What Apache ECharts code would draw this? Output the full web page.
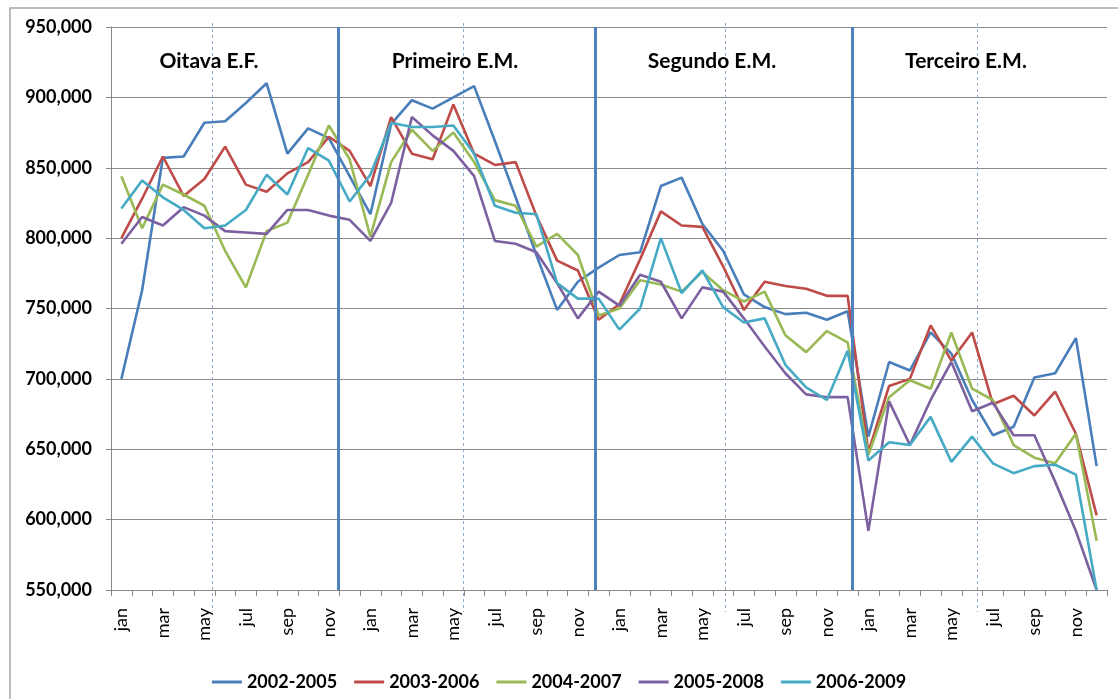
<!DOCTYPE html>
<html>
<head>
<meta charset="utf-8">
<script src="https://cdn.jsdelivr.net/npm/echarts@6/dist/echarts.min.js"></script>
<style>
  html, body { margin: 0; padding: 0; background: #fff; }
  #main { width: 1118px; height: 699px; }
</style>
</head>
<body>
<div id="main"></div>
<script>
// months, four school years in a row
const monthNames = ['jan', 'feb', 'mar', 'apr', 'may', 'jun', 'jul', 'aug', 'sep', 'oct', 'nov', 'dec'];
const months = [].concat(monthNames, monthNames, monthNames, monthNames);

const seriesNames = ['2002-2005', '2003-2006', '2004-2007', '2005-2008', '2006-2009'];

const s2002 = [
  700000, 763000, 857000, 858000, 882000, 883000, 896000, 910000, 860000, 878000, 871000, 844000,
  817000, 881000, 898000, 892000, 900000, 908000, 869000, 829000, 788000, 749000, 769000, 779000,
  788000, 790000, 837000, 843000, 810000, 791000, 760000, 751000, 746000, 747000, 742000, 748000,
  659000, 712000, 706000, 733000, 718000, 685000, 660000, 666000, 701000, 704000, 729000, 638000
];
const s2003 = [
  800000, 828000, 858000, 830000, 842000, 865000, 838000, 833000, 846000, 854000, 872000, 862000,
  837000, 886000, 860000, 856000, 895000, 860000, 852000, 854000, 816000, 784000, 777000, 742000,
  753000, 785000, 819000, 809000, 808000, 780000, 749000, 769000, 766000, 764000, 759000, 759000,
  648000, 695000, 700000, 738000, 713000, 733000, 682000, 688000, 674000, 691000, 661000, 603000
];
const s2004 = [
  844000, 807000, 838000, 831000, 823000, 791000, 765000, 805000, 811000, 845000, 880000, 856000,
  801000, 854000, 877000, 862000, 875000, 854000, 827000, 823000, 794000, 803000, 788000, 745000,
  750000, 770000, 767000, 762000, 776000, 763000, 755000, 762000, 731000, 719000, 734000, 726000,
  646000, 687000, 699000, 693000, 733000, 693000, 685000, 653000, 644000, 640000, 661000, 585000
];
const s2005 = [
  796000, 815000, 809000, 822000, 816000, 805000, 804000, 803000, 820000, 820000, 816000, 813000,
  798000, 825000, 886000, 873000, 862000, 844000, 798000, 796000, 790000, 768000, 743000, 762000,
  752000, 774000, 769000, 743000, 765000, 762000, 743000, 723000, 704000, 689000, 687000, 687000,
  592000, 684000, 653000, 685000, 712000, 677000, 683000, 660000, 660000, 627000, 592000, 550000
];
const s2006 = [
  821000, 841000, 829000, 820000, 807000, 809000, 820000, 845000, 831000, 864000, 855000, 826000,
  845000, 882000, 879000, 879000, 880000, 860000, 823000, 818000, 817000, 768000, 757000, 757000,
  735000, 750000, 800000, 761000, 777000, 751000, 740000, 743000, 710000, 694000, 685000, 720000,
  642000, 655000, 653000, 673000, 641000, 659000, 640000, 633000, 638000, 639000, 632000, 550000
];

// separators, in month units along the 48 months
const yearBreaks = [10.95, 23.36, 35.72];
const midYear = [4.85, 16.97, 29.58, 41.75];
const sectionNames = ['Oitava E.F.', 'Primeiro E.M.', 'Segundo E.M.', 'Terceiro E.M.'];
const sectionX = [209, 455, 712, 966];

const colors = ['#4A7EBB', '#BE4B48', '#98B954', '#7D60A0', '#46AAC5'];
const font = 'Lato, "Open Sans", sans-serif';

let chartDom = document.getElementById('main');
let myChart = echarts.init(chartDom);

const allData = [s2002, s2003, s2004, s2005, s2006];
let series = allData.map(function (d, i) {
  return {
    name: seriesNames[i],
    type: 'line',
    data: d,
    symbol: 'none',
    lineStyle: { width: 2.6, color: colors[i] },
    itemStyle: { color: colors[i] },
    z: 3
  };
});

// carrier for the year separators, on the hidden 0..48 axis
series.push({
  type: 'line',
  xAxisIndex: 1,
  data: [],
  silent: true,
  markLine: {
    symbol: ['none', 'none'],
    silent: true,
    animation: false,
    label: { show: false },
    data: yearBreaks.map(function (v) {
      return { xAxis: v, lineStyle: { color: '#4F81BD', width: 3, type: 'solid' } };
    })
  },
  z: 4
});

let option = {
  animation: false,
  color: colors,
  grid: {
    left: 111,
    right: 11,
    top: 27,
    bottom: 109,
    outerBoundsMode: 'none'
  },
  legend: {
    data: seriesNames,
    left: 'center',
    top: 668,
    icon: 'rect',
    itemWidth: 30,
    itemHeight: 3,
    itemGap: 17,
    textStyle: { fontFamily: font, fontSize: 18, fontWeight: 'bold', color: '#000' }
  },
  xAxis: [
    {
      type: 'category',
      data: months,
      boundaryGap: true,
      axisLine: { lineStyle: { color: '#888', width: 1 } },
      axisTick: { show: true, interval: 0, length: 6, lineStyle: { color: '#888' } },
      axisLabel: {
        interval: 1,
        rotate: 90,
        margin: 18,
        fontFamily: font,
        fontSize: 18,
        color: '#000'
      },
      splitLine: { show: false }
    },
    {
      type: 'value',
      min: 0,
      max: 48,
      show: false
    }
  ],
  yAxis: {
    type: 'value',
    min: 550000,
    max: 950000,
    interval: 50000,
    axisLine: { show: true, lineStyle: { color: '#888' } },
    axisTick: { show: true, length: 5, lineStyle: { color: '#888' } },
    axisLabel: {
      margin: 19,
      fontFamily: font,
      fontSize: 18,
      fontWeight: 'bold',
      color: '#000',
      formatter: function (v) { return v.toLocaleString('en-US'); }
    },
    splitLine: { lineStyle: { color: '#8a8a8a', width: 1 } }
  },
  series: series
};

option && myChart.setOption(option);

// frame, section titles and the dashed mid-year lines (these run past the axis)
let graphics = [
  {
    type: 'rect',
    shape: { x: 10, y: 8, width: 1120, height: 700 },
    style: { fill: 'none', stroke: '#a6a6a6', lineWidth: 1.5 },
    silent: true
  }
];
sectionNames.forEach(function (t, i) {
  graphics.push({
    type: 'text',
    x: sectionX[i],
    y: 61,
    style: {
      text: t,
      font: 'bold 21px ' + font,
      fill: '#000',
      textAlign: 'center',
      textVerticalAlign: 'middle'
    },
    z: 10
  });
});
midYear.forEach(function (v) {
  let px = Math.round(myChart.convertToPixel({ xAxisIndex: 1 }, v)) + 0.5;
  graphics.push({
    type: 'line',
    shape: { x1: px, y1: 23, x2: px, y2: 612 },
    style: { stroke: '#8FAACB', lineWidth: 1, lineDash: [3, 3] },
    silent: true,
    z: 2
  });
});
myChart.setOption({ graphic: graphics });
</script>
</body>
</html>
